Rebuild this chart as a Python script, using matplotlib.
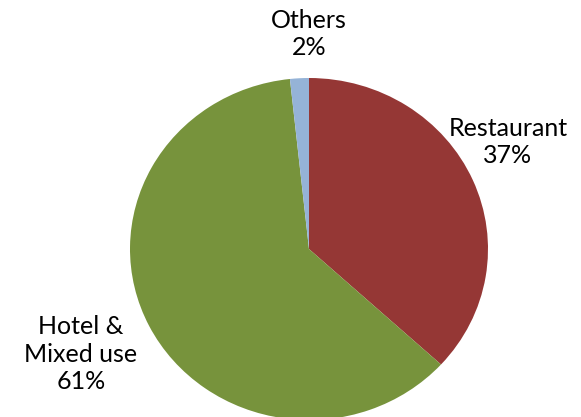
import matplotlib
matplotlib.use('Agg')
import matplotlib.pyplot as plt

# slice data, clockwise from 12 o'clock
categories = ['Restaurant', 'Hotel &\nMixed use', 'Others']
shares = [36.8, 61.5, 1.7]
pct_labels = ['37%', '61%', '2%']
colors = ['#953735', '#77933C', '#95B3D7']

plt.rcParams['font.family'] = ['Lato', 'DejaVu Sans']

W, H = 581, 417
fig = plt.figure(figsize=(W / 100, H / 100), dpi=100)
ax = fig.add_axes([0, 0, 1, 1])

ax.pie(shares, colors=colors, startangle=90, counterclock=False,
       wedgeprops=dict(linewidth=0))

# pie centre sits at (309, 249) px, radius ~179 px wide, ~171 px tall
cx, cy, rx, ry = 309, 249, 179, 171
ax.set_aspect('auto')
ax.set_xlim(-cx / rx, (W - cx) / rx)
ax.set_ylim(-(H - cy) / ry, cy / ry)
ax.axis('off')

# label positions (pixels from top-left)
label_pos = [(508, 142), (81, 354), (309, 34)]
for name, pct, (x, y) in zip(categories, pct_labels, label_pos):
    fig.text(x / W, 1 - y / H, name + '\n' + pct, ha='center', va='center',
             fontsize=18, linespacing=1.25, color='black')

fig.savefig('out.png', dpi=100)
